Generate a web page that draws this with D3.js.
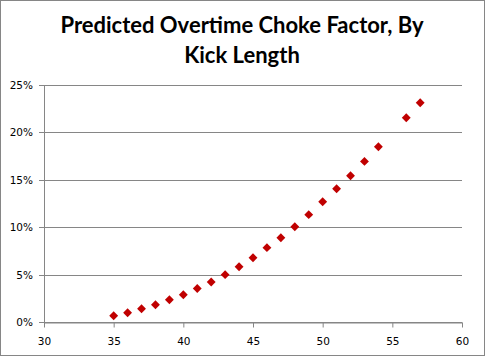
<!DOCTYPE html>
<html><head><meta charset="utf-8">
<script src="https://cdn.jsdelivr.net/npm/d3@7"></script>
<style>body{margin:0;background:#fff;}svg{display:block;}</style>
</head><body>
<svg id="c" width="485" height="357"></svg>
<script>
const kickLength = [35,36,37,38,39,40,41,42,43,44,45,46,47,48,49,50,51,52,53,54,56,57];
const chokeFactor = [0.0066,0.0098,0.0140,0.0182,0.0235,0.0288,0.0353,0.0422,0.0499,0.0583,0.0678,0.0784,0.0889,0.1005,0.1132,0.1269,0.1406,0.1543,0.1694,0.1849,0.2155,0.2313];
const xTicks = [30,35,40,45,50,55,60];
const yTicks = [0,0.05,0.10,0.15,0.20,0.25];
const titleLines = ["Predicted Overtime Choke Factor, By","Kick Length"];

const svg = d3.select("#c");
svg.append("rect").attr("x",0.5).attr("y",0.5).attr("width",484).attr("height",355)
  .attr("fill","#fff").attr("stroke","#868686");

const x = d3.scaleLinear().domain([30,60]).range([44,462]);
const y = d3.scaleLinear().domain([0,0.25]).range([322,85]);

// gridlines
svg.append("g").selectAll("line").data(yTicks).join("line")
  .attr("x1",39).attr("x2",462)
  .attr("y1",d=>Math.round(y(d))+0.5).attr("y2",d=>Math.round(y(d))+0.5)
  .attr("stroke","#868686");

// y axis line
svg.append("line").attr("x1",44.5).attr("x2",44.5).attr("y1",85).attr("y2",322.5).attr("stroke","#868686");

// x axis
const xa = svg.append("g").attr("transform","translate(0,"+(Math.round(y(0))+0.5)+")")
  .call(d3.axisBottom(x).tickValues(xTicks).tickSize(5).tickSizeOuter(0).tickFormat(d3.format("d")));
xa.select(".domain").attr("stroke","#868686");
xa.selectAll(".tick line").attr("stroke","#868686");
xa.selectAll(".tick text").attr("fill","#000").attr("font-family","DejaVu Sans").attr("font-size","10.5px").attr("dy","0").attr("y",22);

// y labels
svg.append("g").selectAll("text").data(yTicks).join("text")
  .attr("x",33).attr("y",d=>y(d)+4)
  .attr("text-anchor","end").attr("font-family","DejaVu Sans").attr("font-size","10.5px")
  .text(d=>d3.format(".0%")(d));

// points
const diamond = d3.symbol().type(d3.symbolDiamond2).size(50);
svg.append("g").selectAll("path").data(kickLength).join("path")
  .attr("transform",(d,i)=>"translate("+x(d)+","+y(chokeFactor[i])+")")
  .attr("d",diamond).attr("fill","#c00000");

// title
svg.append("g").selectAll("text").data(titleLines).join("text")
  .attr("x",242).attr("y",(d,i)=>33+i*30)
  .attr("text-anchor","middle").attr("font-family","Lato").attr("font-weight","bold")
  .attr("font-size","22px").attr("fill","#000").text(d=>d);
</script>
</body></html>
